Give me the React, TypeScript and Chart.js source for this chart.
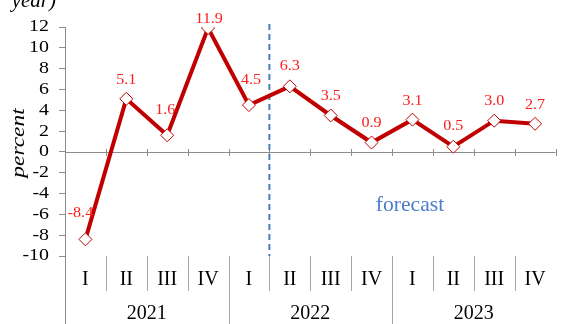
import React, { useEffect, useRef } from "react";
import { Chart, registerables } from "chart.js";

Chart.register(...registerables);

const quarters = ["I", "II", "III", "IV", "I", "II", "III", "IV", "I", "II", "III", "IV"];
const years = ["2021", "2022", "2023"];
const growth = [-8.4, 5.1, 1.6, 11.9, 4.5, 6.3, 3.5, 0.9, 3.1, 0.5, 3.0, 2.7];
const yTicks = { min: -10, max: 12, step: 2 };
const forecastStartIndex = 5;
const yTitle = "percent";
const headerTail = "year)";
const forecastText = "forecast";

// label placement tweaks (style only: pixel nudges of the value labels)
const labelNudgeX = [-5, 0, -2, 1, 2, 0, 0, 0, 0, 0, 0, 0];
const labelNudgeY = [-26, -18, -25, -9, -25, -20, -19, -19, -18, -20, -19, -18];

const SERIF = "'Liberation Serif', 'Times New Roman', serif";

function drawText(
  ctx: CanvasRenderingContext2D,
  s: string,
  x: number,
  y: number,
  font: string,
  sx: number,
  align: CanvasTextAlign,
  color: string
) {
  ctx.save();
  ctx.translate(x, y);
  ctx.scale(sx, 1);
  ctx.font = font;
  ctx.fillStyle = color;
  ctx.textAlign = align;
  ctx.textBaseline = "middle";
  ctx.fillText(s, 0, 0);
  ctx.restore();
}

const overlay = {
  id: "overlay",
  beforeDatasetsDraw(chart: any) {
    const { ctx, chartArea } = chart;
    const xs = chart.scales.x;
    const ys = chart.scales.y;
    const n = quarters.length;
    const w = (chartArea.right - chartArea.left) / n;
    const y0 = ys.getPixelForValue(0);
    ctx.save();
    ctx.strokeStyle = "#8c8c8c";
    ctx.lineWidth = 1;
    ctx.beginPath();
    ctx.moveTo(chartArea.left, Math.round(y0) + 0.5);
    ctx.lineTo(chartArea.right, Math.round(y0) + 0.5);
    for (let i = 1; i <= n; i++) {
      const bx = Math.round(chartArea.left + i * w) + 0.5;
      ctx.moveTo(bx, y0 - 3);
      ctx.lineTo(bx, y0 + 4);
    }
    ctx.stroke();

    // bottom category separators
    ctx.strokeStyle = "#a6a6a6";
    ctx.beginPath();
    for (let i = 1; i < n; i++) {
      const bx = Math.round(chartArea.left + i * w) + 0.5;
      ctx.moveTo(bx, chartArea.bottom);
      ctx.lineTo(bx, i % 4 === 0 ? chart.height : chartArea.bottom + 35);
    }
    ctx.stroke();
    // y axis extension
    ctx.strokeStyle = "#8c8c8c";
    ctx.beginPath();
    ctx.moveTo(Math.round(chartArea.left) + 0.5, chartArea.bottom);
    ctx.lineTo(Math.round(chartArea.left) + 0.5, chart.height);
    ctx.stroke();

    // y tick labels
    ys.ticks.forEach((t: any) => {
      drawText(ctx, String(t.value), 49, ys.getPixelForValue(t.value), `17px ${SERIF}`, 1.17, "right", "#000");
    });

    // category labels
    quarters.forEach((q, i) => {
      drawText(ctx, q, xs.getPixelForValue(i), chartArea.bottom + 24, `20px ${SERIF}`, 1, "center", "#000");
    });
    years.forEach((yr, j) => {
      const cx = chartArea.left + (j * 4 + 2) * w;
      drawText(ctx, yr, cx, chartArea.bottom + 58, `20px ${SERIF}`, 1, "center", "#000");
    });

    // dashed forecast line
    const dx = chartArea.left + forecastStartIndex * w;
    ctx.strokeStyle = "#4a7ebb";
    ctx.lineWidth = 2;
    ctx.setLineDash([6, 4]);
    ctx.beginPath();
    ctx.moveTo(dx, 24);
    ctx.lineTo(dx, chartArea.bottom);
    ctx.stroke();
    ctx.setLineDash([]);

    drawText(ctx, forecastText, 410, 205, `21px ${SERIF}`, 1.03, "center", "#4a7ecb");

    // y title
    ctx.save();
    ctx.translate(19, 143);
    ctx.rotate(-Math.PI / 2);
    drawText(ctx, yTitle, 0, 0, `italic 18px ${SERIF}`, 1.3, "center", "#000");
    ctx.restore();

    // header tail
    ctx.save();
    ctx.textAlign = "right";
    ctx.textBaseline = "alphabetic";
    ctx.font = `italic 21px ${SERIF}`;
    ctx.fillStyle = "#000";
    ctx.fillText(headerTail, 56, 7);
    ctx.restore();
    ctx.restore();
  },
  afterDatasetsDraw(chart: any) {
    const { ctx } = chart;
    const meta = chart.getDatasetMeta(0);
    meta.data.forEach((pt: any, i: number) => {
      drawText(
        ctx,
        growth[i].toFixed(1),
        pt.x + labelNudgeX[i],
        pt.y + labelNudgeY[i],
        `14px ${SERIF}`,
        1.15,
        "center",
        "#ff1a1a"
      );
    });
  },
};

export default function App() {
  const ref = useRef<HTMLCanvasElement>(null);
  useEffect(() => {
    document.body.style.margin = "0";
    const chart = new Chart(ref.current!, {
      type: "line",
      data: {
        labels: quarters.map((q, i) => `${q}-${i}`),
        datasets: [
          {
            data: growth,
            borderColor: "#c00000",
            borderWidth: 4,
            pointStyle: "rectRot",
            pointRadius: 6.5,
            pointBackgroundColor: "#ffffff",
            pointBorderColor: "#c00000",
            pointBorderWidth: 1,
            tension: 0,
          },
        ],
      },
      options: {
        animation: false,
        responsive: false,
        layout: { padding: { top: 27, right: 3, bottom: 68, left: 0 } },
        plugins: { legend: { display: false }, tooltip: { enabled: false }, title: { display: false } },
        scales: {
          x: { type: "category", display: false, offset: true },
          y: {
            min: yTicks.min,
            max: yTicks.max,
            afterFit(scale: any) {
              scale.width = 65;
            },
            ticks: {
              stepSize: yTicks.step,
              autoSkip: false,
              color: "rgba(0,0,0,0)",
              padding: 9,
              font: { family: SERIF, size: 12 },
            },
            border: { color: "#8c8c8c" },
            grid: { drawOnChartArea: false, tickLength: 6, color: "#8c8c8c" },
          },
        },
      },
      plugins: [overlay],
    });
    return () => chart.destroy();
  }, []);
  return (
    <div style={{ position: "absolute", left: 0, top: 0, width: 563, height: 324 }}>
      <canvas ref={ref} width={563} height={324} />
    </div>
  );
}
